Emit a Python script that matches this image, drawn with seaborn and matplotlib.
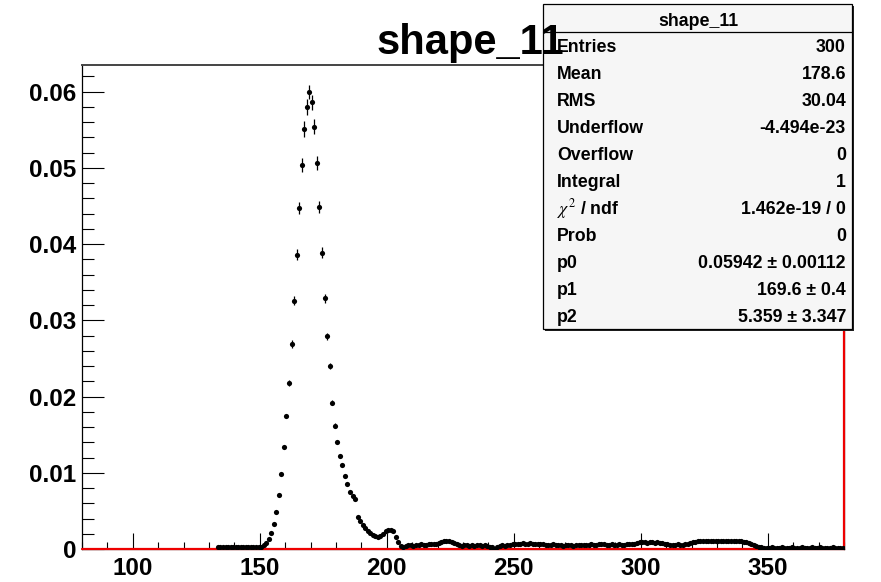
import numpy as np
import pandas as pd
import matplotlib
matplotlib.use("Agg")
import matplotlib.pyplot as plt
import seaborn as sns
from matplotlib.patches import Rectangle
from matplotlib.lines import Line2D
from matplotlib.ticker import MultipleLocator, FixedLocator, FixedFormatter

# ---------------- data ----------------
bin_centers = np.arange(133.5, 380.0, 1.0)
values = [
    0.0002, 0.0002, 0.0002, 0.0003, 0.0002, 0.0002, 0.0002, 0.0002, 0.0003, 0.0002,
    0.0002, 0.0002, 0.0002, 0.0003, 0.0002, 0.0002, 0.0003, 0.0003,
    0.0005, 0.0008, 0.0013, 0.0021, 0.0033, 0.0049, 0.0071,
    0.0099, 0.0134, 0.0174, 0.0218, 0.0269, 0.0326, 0.0386, 0.0447, 0.0504, 0.0551,
    0.0580, 0.0600, 0.0586, 0.0554, 0.0506, 0.0449, 0.0389, 0.0329, 0.0279, 0.0240,
    0.0192, 0.0162, 0.0141, 0.0122, 0.0110, 0.0096, 0.0085, 0.0075, 0.0070, 0.0066,
    0.0042, 0.0037, 0.0032, 0.0028, 0.0024, 0.0021, 0.0019, 0.0017, 0.0016, 0.0017,
    0.0020, 0.0023, 0.0025, 0.0025, 0.0023, 0.0016, 0.0009, 0.0004, 0.0003, 0.0004,
    0.0005, 0.0005, 0.0004, 0.0005, 0.0005, 0.0006, 0.0005, 0.0005, 0.0006, 0.0006,
    0.0006, 0.0007, 0.0008, 0.0009, 0.0010, 0.0010, 0.0010, 0.0009, 0.0008, 0.0006,
    0.0005, 0.0004, 0.0005, 0.0005, 0.0004, 0.0005, 0.0004, 0.0005, 0.0005, 0.0004,
    0.0005, 0.0004, 0.0003, 0.0002, 0.0000, 0.0003, 0.0004, 0.0005, 0.0004, 0.0005,
    0.0005, 0.0006, 0.0006, 0.0007, 0.0007, 0.0008, 0.0007, 0.0007, 0.0008, 0.0007,
    0.0007, 0.0007, 0.0006, 0.0006, 0.0005, 0.0005, 0.0005, 0.0006, 0.0005, 0.0005,
    0.0005, 0.0004, 0.0005, 0.0005, 0.0005, 0.0004, 0.0005, 0.0005, 0.0005, 0.0005,
    0.0005, 0.0005, 0.0006, 0.0005, 0.0005, 0.0006, 0.0006, 0.0007, 0.0005, 0.0005,
    0.0006, 0.0005, 0.0005, 0.0006, 0.0005, 0.0005, 0.0006, 0.0006, 0.0007, 0.0007,
    0.0008, 0.0009, 0.0009, 0.0009, 0.0008, 0.0009, 0.0009, 0.0008, 0.0009, 0.0008,
    0.0008, 0.0007, 0.0006, 0.0005, 0.0005, 0.0005, 0.0006, 0.0005, 0.0005, 0.0006,
    0.0007, 0.0008, 0.0009, 0.0009, 0.0010, 0.0010, 0.0010, 0.0011, 0.0011, 0.0011,
    0.0011, 0.0011, 0.0011, 0.0011, 0.0011, 0.0011, 0.0011, 0.0011, 0.0011, 0.0010,
    0.0010, 0.0010, 0.0009, 0.0009, 0.0008, 0.0007, 0.0005, 0.0004, 0.0003, 0.0002,
    0.0001, 0.0001, 0.0001, 0.0002, 0.0001, 0.0001, 0.0001, 0.0002, 0.0001, 0.0001,
    0.0001, 0.0002, 0.0001, 0.0001, 0.0001, 0.0002, 0.0001, 0.0001, 0.0001, 0.0002,
    0.0001, 0.0001, 0.0002, 0.0001, 0.0001, 0.0001, 0.0001, 0.0002, 0.0001, 0.0001,
    0.0001, 0.0001,
]
# visible vertical error bars (peak region)
err_x = [161.5, 162.5, 163.5, 164.5, 165.5, 166.5, 167.5, 168.5, 169.5, 170.5,
         171.5, 172.5, 173.5, 174.5, 175.5, 176.5, 177.5, 178.5, 179.5]
err_sizes = [0.0004, 0.0005, 0.0006, 0.0007, 0.0008, 0.0009, 0.0010, 0.0010, 0.0009, 0.0010,
             0.0010, 0.0009, 0.0008, 0.0007, 0.0006, 0.0005, 0.0004, 0.0003, 0.0003]

# fitted function as drawn (flat at zero, rising at the right edge)
fit_x = [80, 380, 380]
fit_y = [0.0, 0.0, 0.0635]

x_ticks = [100, 150, 200, 250, 300, 350]
x_tick_labels = ["100", "150", "200", "250", "300", "350"]
y_ticks = [0.0, 0.01, 0.02, 0.03, 0.04, 0.05, 0.06]
y_tick_labels = ["0", "0.01", "0.02", "0.03", "0.04", "0.05", "0.06"]

title = "shape_11"
stat_labels = ["Entries", "Mean", "RMS", "Underflow", "Overflow", "Integral",
               r"$\chi^{2}$ / ndf", "Prob", "p0", "p1", "p2"]
stat_values = ["300", "178.6", "30.04", "-4.494e-23", "0", "1",
               "1.462e-19 / 0", "0", "0.05942 \u00b1 0.00112", "169.6 \u00b1 0.4",
               "5.359 \u00b1 3.347"]

df = pd.DataFrame({"x": bin_centers, "y": values})
df["err"] = df["x"].map(dict(zip(err_x, err_sizes))).fillna(0.0)

# ---------------- figure ----------------
sns.set_theme(style="white")
plt.rcParams["font.family"] = ["Liberation Sans", "DejaVu Sans"]
plt.rcParams["mathtext.fontset"] = "stix"

W, H = 881, 582
fig = plt.figure(figsize=(W / 100, H / 100), dpi=100)
fig.patch.set_facecolor("white")

def fx(px):
    return px / W

def fy(py):
    return 1 - py / H

ax_l, ax_r, ax_t, ax_b = 82, 844, 65, 549
ax = fig.add_axes([fx(ax_l), fy(ax_b), (ax_r - ax_l) / W, (ax_b - ax_t) / H])
ax.set_facecolor("white")

# fit function (red), drawn above the frame lines
ax.plot(fit_x, fit_y, color="#ee0000", lw=1.6, zorder=2.7, clip_on=False,
        solid_joinstyle="miter")

# error bars and markers
ax.errorbar(df["x"], df["y"], xerr=0.5, yerr=df["err"], fmt="none",
            ecolor="black", elinewidth=0.9, capsize=0, zorder=3)
sns.scatterplot(data=df, x="x", y="y", ax=ax, color="black", marker="o",
                s=14, linewidth=0, zorder=4, legend=False)

ax.set_xlim(80, 380)
ax.set_ylim(0, 0.0635)
ax.set_xlabel("")
ax.set_ylabel("")

ax.xaxis.set_major_locator(FixedLocator(x_ticks))
ax.xaxis.set_major_formatter(FixedFormatter(x_tick_labels))
ax.xaxis.set_minor_locator(MultipleLocator(10))
ax.yaxis.set_major_locator(FixedLocator(y_ticks))
ax.yaxis.set_major_formatter(FixedFormatter(y_tick_labels))
ax.yaxis.set_minor_locator(MultipleLocator(0.002))

ax.tick_params(axis="x", which="major", direction="in", length=11.5, width=0.8,
               color="black", labelcolor="black", labelsize=17.5, pad=6,
               bottom=True, top=False)
ax.tick_params(axis="x", which="minor", direction="in", length=5, width=0.8,
               color="black", bottom=True, top=False)
ax.tick_params(axis="y", which="major", direction="in", length=15.8, width=0.8,
               color="black", labelcolor="black", labelsize=17.5, pad=4,
               left=True, right=False)
ax.tick_params(axis="y", which="minor", direction="in", length=8.3, width=0.8,
               color="black", left=True, right=False)
for lab in ax.get_xticklabels() + ax.get_yticklabels():
    lab.set_fontweight("bold")

for side in ["left", "bottom", "right", "top"]:
    ax.spines[side].set_visible(True)
    ax.spines[side].set_color("black")
    ax.spines[side].set_linewidth(0.9)
ax.spines["top"].set_color("#444444")
ax.spines["top"].set_linewidth(1.4)

# ---------------- stats box ----------------
bx0, bx1, by0, by1 = 543, 852, 4, 329
fig.add_artist(Rectangle((fx(bx0 + 2), fy(by1 + 2)), (bx1 - bx0) / W, (by1 - by0) / H,
                         transform=fig.transFigure, facecolor="#222222",
                         edgecolor="none", zorder=5))
fig.add_artist(Rectangle((fx(bx0), fy(by1)), (bx1 - bx0) / W, (by1 - by0) / H,
                         transform=fig.transFigure, facecolor="#f6f6f6",
                         edgecolor="black", linewidth=0.9, zorder=6))
fig.add_artist(Line2D([fx(bx0), fx(bx1)], [fy(31.7), fy(31.7)],
                      transform=fig.transFigure, color="black", lw=0.9, zorder=7))
fig.text(fx(698), fy(26), title, ha="center", va="baseline", fontsize=12.8,
         fontweight="bold", color="black", zorder=8)
for i, (lab, val) in enumerate(zip(stat_labels, stat_values)):
    base = 52 + 27.05 * i
    fig.text(fx(557), fy(base), lab, ha="left", va="baseline", fontsize=12.8,
             fontweight="bold", color="black", zorder=8)
    fig.text(fx(846), fy(base), val, ha="right", va="baseline", fontsize=12.8,
             fontweight="bold", color="black", zorder=8)

# ---------------- title ----------------
fig.text(fx(470), fy(54), title, ha="center", va="baseline", fontsize=30,
         fontweight="bold", color="black", zorder=9)

fig.savefig("out.png", dpi=100, facecolor="white")
